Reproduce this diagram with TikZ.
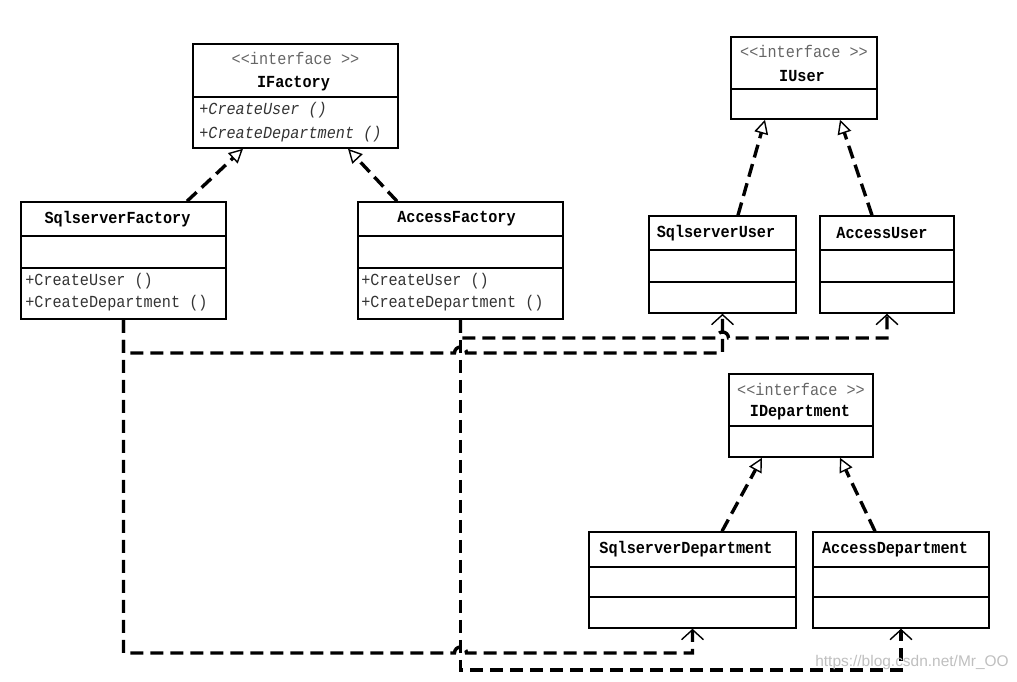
\documentclass[tikz,border=0pt]{standalone}
\usepackage{fontspec}
\usepackage{tikz}
\usetikzlibrary{arrows.meta,calc}
\newfontfamily\umlfont[FakeStretch=0.9]{Liberation Mono}
\newfontfamily\markfont{Liberation Sans}

\begin{document}
\begin{tikzpicture}[font=\umlfont\fontsize{12}{14}\selectfont,line cap=butt,
  box/.style={draw,line width=1.1pt,inner sep=0pt},
  sep/.style={line width=1.1pt},
  stereo/.style={text=black!60,inner sep=0pt},
  title/.style={font=\umlfont\fontsize{12}{14}\selectfont\bfseries,inner sep=0pt},
  op/.style={anchor=west,inner sep=0pt,text=black!80},
  opi/.style={op,font=\umlfont\fontsize{12}{14}\selectfont\itshape},
  realize/.style={line width=2.4pt,dash pattern=on 0.33cm off 0.17cm,
    -{Triangle[open,length=3.5mm,width=3.5mm,line width=1pt,fill=white]}},
  depend/.style={line width=2.4pt,dash pattern=on 0.33cm off 0.17cm,
    -{Straight Barb[length=2.5mm,width=5.5mm,line width=1pt]}}]
\useasboundingbox (0,0) rectangle (25.425,17.025);

% factories
\node[box,minimum width=5.125cm,minimum height=2.6cm] (ifac) at (7.3875,14.625) {};
\draw[sep] (ifac.west |- 0,14.6) -- (ifac.east |- 0,14.6);
\node[stereo] (ifacs) at (7.3875,15.5625) {<\kern0pt<interface >\kern0pt>};
\node[title] (ifact) at (7.3375,14.925) {IFactory};
\node[opi] (ifacm1) at (4.975,14.275) {+CreateUser ()};
\node[opi] (ifacm2) at (4.975,13.675) {+CreateDepartment ()};

\node[box,minimum width=5.125cm,minimum height=2.925cm] (sf) at (3.0875,10.5125) {};
\node[box,minimum width=5.125cm,minimum height=2.925cm] (af) at (11.5125,10.5125) {};
\foreach \c in {sf,af}{
  \draw[sep] (\c.west |- 0,11.125) -- (\c.east |- 0,11.125);
  \draw[sep] (\c.west |- 0,10.325) -- (\c.east |- 0,10.325);
}
\node[title] (sft) at (2.9375,11.55) {SqlserverFactory};
\node[op] (sfm1) at (0.625,10.0) {+CreateUser ()};
\node[op] (sfm2) at (0.625,9.45) {+CreateDepartment ()};
\node[title] (aft) at (11.4125,11.55) {AccessFactory};
\node[op] (afm1) at (9.025,10.0) {+CreateUser ()};
\node[op] (afm2) at (9.025,9.45) {+CreateDepartment ()};

% users
\node[box,minimum width=3.65cm,minimum height=2.05cm] (iuser) at (20.1,15.075) {};
\draw[sep] (iuser.west |- 0,14.8) -- (iuser.east |- 0,14.8);
\node[stereo] (iusers) at (20.1,15.75) {<\kern0pt<interface >\kern0pt>};
\node[title] (iusert) at (20.05,15.125) {IUser};
\node[box,minimum width=3.675cm,minimum height=2.425cm] (su) at (18.0625,10.4125) {};
\node[box,minimum width=3.35cm,minimum height=2.425cm] (au) at (22.175,10.4125) {};
\foreach \c in {su,au}{
  \draw[sep] (\c.west |- 0,10.775) -- (\c.east |- 0,10.775);
  \draw[sep] (\c.west |- 0,9.975) -- (\c.east |- 0,9.975);
}
\node[title] (sut) at (17.9,11.2) {SqlserverUser};
\node[title] (aut) at (22.05,11.2) {AccessUser};

% departments
\node[box,minimum width=3.6cm,minimum height=2.075cm] (idep) at (20.025,6.6375) {};
\draw[sep] (idep.west |- 0,6.375) -- (idep.east |- 0,6.375);
\node[stereo] (ideps) at (20.025,7.3) {<\kern0pt<interface >\kern0pt>};
\node[title] (ideptt) at (20.0,6.7) {IDepartment};
\node[box,minimum width=5.175cm,minimum height=2.4cm] (sd) at (17.3125,2.525) {};
\node[box,minimum width=4.4cm,minimum height=2.4cm] (ad) at (22.525,2.525) {};
\foreach \c in {sd,ad}{
  \draw[sep] (\c.west |- 0,2.85) -- (\c.east |- 0,2.85);
  \draw[sep] (\c.west |- 0,2.1) -- (\c.east |- 0,2.1);
}
\node[title] (sdt) at (17.15,3.2875) {SqlserverDepartment};
\node[title] (adt) at (22.375,3.2875) {AccessDepartment};

% realizations
\draw[realize] ([xshift=1.5875cm]sf.north) -- ([xshift=-1.3125cm]ifac.south);
\draw[realize] ([xshift=-1.5875cm]af.north) -- ([xshift=1.3125cm]ifac.south);
\draw[realize] ([xshift=0.3875cm]su.north) -- ([xshift=-0.975cm]iuser.south);
\draw[realize] ([xshift=-0.375cm]au.north) -- ([xshift=0.9cm]iuser.south);
\draw[realize] ([xshift=0.7375cm]sd.north) -- ([xshift=-0.975cm]idep.south);
\draw[realize] ([xshift=-0.65cm]ad.north) -- ([xshift=0.975cm]idep.south);

% dependencies
\draw[depend] (sf.south) -- (sf.south |- 0,8.2)
  -- ($(af.south |- 0,8.2)+(-0.15,0)$) arc[start angle=180,end angle=0,radius=0.15] -| (su.south);
\draw[depend] (af.south) -- (af.south |- 0,8.575)
  -- ($(su.south |- 0,8.575)+(-0.15,0)$) arc[start angle=180,end angle=0,radius=0.15] -| (au.south);
\draw[depend] (sf.south) -- (sf.south |- 0,0.7)
  -- ($(af.south |- 0,0.7)+(-0.15,0)$) arc[start angle=180,end angle=0,radius=0.15] -| (sd.south);
\draw[depend] (af.south) -- (af.south |- 0,0.275) -| (ad.south);

\node[text=black!25,font=\markfont\fontsize{11}{13}\selectfont] (wm) at (22.8,0.45) {https://blog.csdn.net/Mr\_OO};
\end{tikzpicture}
\end{document}
